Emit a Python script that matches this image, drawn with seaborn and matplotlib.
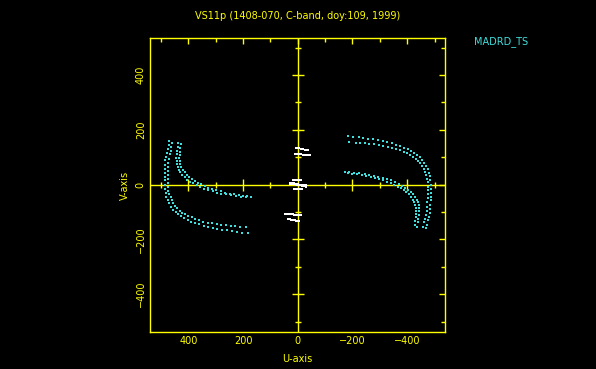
import numpy as np
import pandas as pd
import matplotlib
matplotlib.use("Agg")
import matplotlib.pyplot as plt
import seaborn as sns
from matplotlib.ticker import MultipleLocator

# ---------- DATA (one half of the uv-coverage; the conjugate half is -u, -v) ----------
big_outer_u = [469, 472, 476, 479, 482, 484, 485, 486, 487, 487, 487, 486, 485, 483, 480, 475, 469, 462, 455,
               446, 436, 426, 415, 402, 389, 375, 360, 344, 327, 311, 295, 276, 258, 240, 222, 202, 182]
big_outer_v = [160, 146, 131, 117, 102, 88, 73, 58, 44, 29, 15, 0, -15, -30, -44, -57, -69, -80, -91,
               -99, -107, -115, -122, -129, -135, -140, -145, -150, -155, -159, -162, -165, -167, -170, -173, -175, -176]

big_inner_u = [458, 462, 465, 468, 471, 473, 474, 475, 476, 476, 476, 475, 473, 469, 465, 460, 455, 448,
               440, 431, 422, 411, 400, 388, 375, 360, 345, 329, 313, 297, 280, 262, 244, 228, 211, 189]
big_inner_v = [153, 138, 124, 110, 95, 80, 65, 50, 36, 21, 7, -8, -22, -35, -47, -58, -69, -78,
               -87, -95, -102, -109, -115, -120, -125, -130, -135, -139, -142, -145, -147, -149, -151, -152, -153, -155]

short_outer_u = [436, 438, 440, 442, 444, 443, 442, 439, 435, 429, 422, 413, 404, 393, 382, 369, 356, 342,
                 327, 311, 295, 279, 262, 244, 225, 207, 189, 171]
short_outer_v = [153, 138, 124, 111, 98, 87, 76, 65, 55, 45, 35, 26, 18, 11, 4, -3, -9, -15,
                 -20, -25, -29, -33, -36, -39, -42, -44, -45, -47]

short_inner_u = [427, 429, 431, 432, 433, 431, 429, 425, 420, 413, 405, 396, 387, 376, 365, 353, 340,
                 327, 313, 298, 282, 266, 249, 233, 216, 200, 185]
short_inner_v = [147, 133, 120, 108, 96, 85, 75, 65, 55, 45, 36, 28, 20, 13, 7, 1, -5,
                 -11, -16, -21, -25, -29, -33, -36, -38, -40, -42]

# short baselines (white)
w1_u = [5, 0, -5, -10, -15, -20, -25, -30, -37]
w1_v = [133, 133, 132, 131, 130, 129, 128, 127, 126]
w2_u = [11, 5, 0, -6, -12, -18, -24, -30, -35, -41, -46]
w2_v = [111, 111, 110, 110, 110, 109, 109, 108, 108, 107, 107]
w3_u = [17, 12, 7, 2, -3, -8, -13]
w3_v = [17, 17, 16, 16, 16, 15, 15]
w4_u = [29, 22, 15, 8, 0, -8, -15, -22, -29]
w4_v = [3, 2, 1, 0, -1, -2, -4, -5, -7]

TITLE = "VS11p (1408-070, C-band, doy:109, 1999)"
STATION = "MADRD_TS"
YELLOW = "#ffff00"
CYAN = "#3fdede"

tracks = [
    (big_outer_u, big_outer_v, "cyan"),
    (big_inner_u, big_inner_v, "cyan"),
    (short_outer_u, short_outer_v, "cyan"),
    (short_inner_u, short_inner_v, "cyan"),
    (w1_u, w1_v, "white"),
    (w2_u, w2_v, "white"),
    (w3_u, w3_v, "white"),
    (w4_u, w4_v, "white"),
]

rows = []
for u, v, kind in tracks:
    for a, b in zip(u, v):
        rows.append({"u": a, "v": b, "kind": kind})
        rows.append({"u": -a, "v": -b, "kind": kind})
df = pd.DataFrame(rows)

sns.set_style("dark", {"axes.facecolor": "black", "figure.facecolor": "black"})
plt.rcParams["font.family"] = ["DejaVu Sans"]

fig = plt.figure(figsize=(5.96, 3.69), dpi=100)
fig.patch.set_facecolor("black")
ax = fig.add_axes([0.2517, 0.1003, 0.4949, 0.7967])
ax.set_facecolor("black")

ax.axhline(0, color=YELLOW, lw=1, zorder=1)
ax.axvline(0, color=YELLOW, lw=1, zorder=1)

sns.scatterplot(data=df[df.kind == "cyan"], x="u", y="v", color=CYAN,
                marker="s", s=3, linewidth=0, ax=ax, zorder=3)
sns.scatterplot(data=df[df.kind == "white"], x="u", y="v", color="white",
                marker="s", s=4, linewidth=0, ax=ax, zorder=3)

ax.set_xlim(540, -538)
ax.set_ylim(-538, 535)

# ticks on the zero lines
major = np.array([-400, -200, 200, 400])
minor = np.array([-500, -300, -100, 100, 300, 500])
ax.plot(major, np.zeros(len(major)), ls="none", marker="|", ms=9, mew=1, color=YELLOW, zorder=2)
ax.plot(minor, np.zeros(len(minor)), ls="none", marker="|", ms=5, mew=1, color=YELLOW, zorder=2)
ax.plot(np.zeros(len(major)), major, ls="none", marker="_", ms=9, mew=1, color=YELLOW, zorder=2)
ax.plot(np.zeros(len(minor)), minor, ls="none", marker="_", ms=5, mew=1, color=YELLOW, zorder=2)

for sp in ax.spines.values():
    sp.set_color(YELLOW)
    sp.set_linewidth(1)
    sp.set_visible(True)

for axis in (ax.xaxis, ax.yaxis):
    axis.set_major_locator(MultipleLocator(200))
    axis.set_minor_locator(MultipleLocator(100))
ax.tick_params(which="both", direction="in", top=True, right=True,
               colors=YELLOW, width=1, labelsize=7)
ax.tick_params(which="major", length=4, pad=3)
ax.tick_params(which="minor", length=3)
for lab in ax.get_yticklabels():
    lab.set_rotation(90)
    lab.set_va("center")
ax.grid(False)

ax.set_xlabel("U-axis", color=YELLOW, fontsize=7, labelpad=6)
ax.set_ylabel("V-axis", color=YELLOW, fontsize=7, labelpad=4)

fig.text(0.499, 0.957, TITLE, color=YELLOW, fontsize=7, ha="center", va="center")
fig.text(474 / 596, 1 - 42 / 369, STATION, color=CYAN, fontsize=7, ha="left", va="center")

fig.savefig("out.png", dpi=100, facecolor="black")
